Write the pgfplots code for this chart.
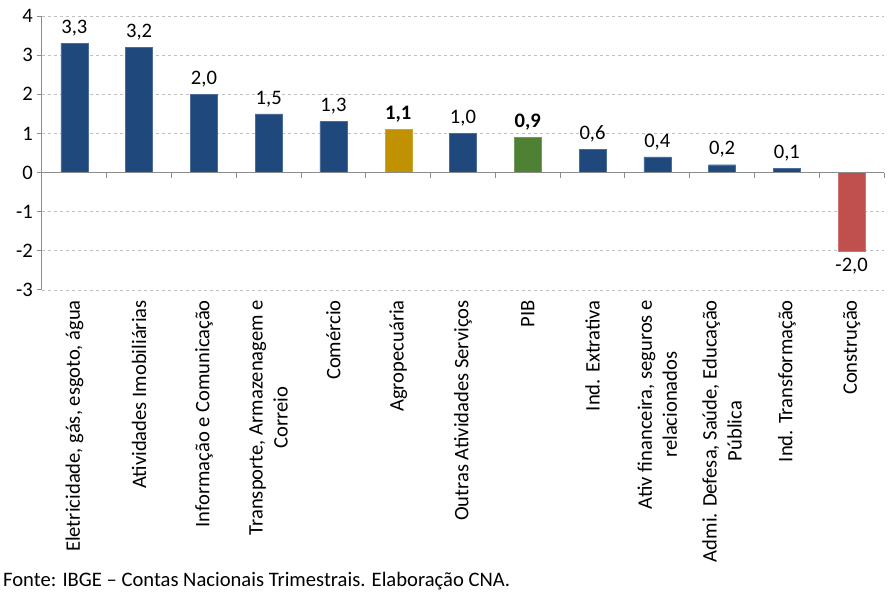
\documentclass[border=0pt]{standalone}
\usepackage{pgfplots}
\pgfplotsset{compat=1.18}
\usepackage{fontspec}
\setmainfont{Carlito}
\definecolor{navy}{HTML}{1F497D}
\definecolor{gold}{HTML}{C09100}
\definecolor{grn}{HTML}{4F8134}
\definecolor{rd}{HTML}{C0504D}
\definecolor{ax}{HTML}{8C8C8C}
\newcommand\fs{\fontsize{20.6}{25}\selectfont}
\begin{document}
\fs
\begin{tikzpicture}
\path[use as bounding box] (-42pt,-304pt) rectangle (847pt,290pt);
\begin{axis}[
  at={(0,0)}, anchor=south west,
  scale only axis, width=842pt, height=274pt,
  xmin=-0.5, xmax=12.5, ymin=-3, ymax=4,
  axis x line=none, axis y line*=left,
  y axis line style={ax, line width=1pt},
  ytick={-3,...,4},
  ytick style={ax, line width=1pt},
  tick align=outside, major tick length=5pt,
  ymajorgrids, grid style={dashed, gray!50, line width=0.8pt},
  yticklabel style={font=\fs, inner xsep=4pt},
  /pgf/number format/assume math mode=true,
  ybar, bar width=27pt, bar shift=0pt,
  clip=false,
  nodes near coords={\pgfmathprintnumber[fixed, fixed zerofill, precision=1, use comma]{\pgfplotspointmeta}},
  every node near coord/.append style={font=\fs, inner sep=7pt},
]
\addplot[fill=navy, draw=navy!80!white] coordinates {(0,3.3) (1,3.2) (2,2.0) (3,1.5) (4,1.3) (6,1.0) (8,0.6) (9,0.4) (10,0.2) (11,0.1)};
\addplot[fill=gold, draw=gold!80!white, every node near coord/.append style={font=\fs\bfseries}] coordinates {(5,1.1)};
\addplot[fill=grn, draw=grn!80!white, every node near coord/.append style={font=\fs\bfseries}] coordinates {(7,0.9)};
\addplot[fill=rd, draw=rd!80!white] coordinates {(12,-2.0)};
\draw[ax, line width=1pt] (axis cs:-0.5,0) -- (axis cs:12.5,0);
\pgfplotsinvokeforeach{0.5,1.5,...,12.5}{\draw[ax, line width=1pt] (axis cs:#1,0) -- ([yshift=-5pt]axis cs:#1,0);}
\end{axis}
\foreach \i/\t in {0/{Eletricidade, gás, esgoto, água},1/{Atividades Imobiliárias},2/{Informação e Comunicação},3/{Transporte, Armazenagem e\\Correio},4/{Comércio},5/{Agropecuária},6/{Outras Atividades Serviços},7/{PIB},8/{Ind. Extrativa},9/{Ativ financeira, seguros e\\relacionados},10/{Admi. Defesa, Saúde, Educação\\Pública},11/{Ind. Transformação},12/{Construção}}{
  \node[rotate=90, anchor=east, align=center, inner sep=0pt, font=\fs] at ({(\i+0.5)*842pt/13}, -10pt) {\t};
}
\node[anchor=south west, inner sep=0pt, font=\fs] at (-39pt,-300pt) {Fonte: IBGE – Contas Nacionais Trimestrais. Elaboração CNA.};
\end{tikzpicture}
\end{document}
